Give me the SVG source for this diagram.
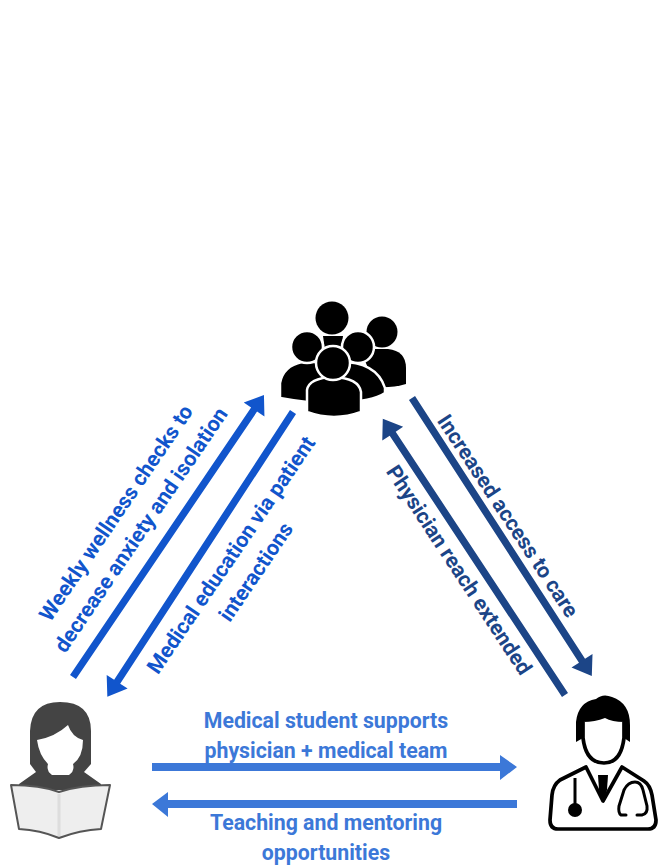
<svg xmlns="http://www.w3.org/2000/svg" width="659" height="866" viewBox="0 0 659 866">
<style>
text{font-family:Roboto,"Liberation Sans",sans-serif;font-weight:700;font-size:21.3px;text-anchor:middle}
.a{fill:#3c78d8}.b{fill:#1155cc}.c{fill:#1c4587}
.w{stroke:#fff;stroke-width:2.5}
</style>
<rect width="659" height="866" fill="#fff"/>
<g id="connectors">
<polygon class="b" transform="translate(73,677) rotate(-55.9)" points="0,-3.6 323,-3.6 323,-12.5 340.6,0 323,12.5 323,3.6 0,3.6"/>
<polygon class="b" transform="translate(293,412) rotate(123.1)" points="0,-3.6 322,-3.6 322,-12.5 340,0 322,12.5 322,3.6 0,3.6"/>
<polygon class="c" transform="translate(412,398) rotate(57.1)" points="0,-3.6 313,-3.6 313,-12.5 331,0 313,12.5 313,3.6 0,3.6"/>
<polygon class="c" transform="translate(565,695) rotate(236.6)" points="0,-3.6 313,-3.6 313,-12.5 331,0 313,12.5 313,3.6 0,3.6"/>
<polygon class="a" points="152,763 500,763 500,755 517,767 500,780 500,771 152,771"/>
<polygon class="a" points="517,800 168,800 168,792 152,804 168,817 168,808 517,808"/>
</g>
<g id="patients">
<circle cx="382" cy="332" r="15.5"/>
<path d="M360 349H388Q406 351 406 368V384Q392 388 376 387Z"/>
<circle cx="332" cy="318" r="16.5"/>
<path d="M323 336H343L341 350H325Z"/>
<path class="w" d="M322 363Q375 356 385 388V393Q372 402 340 402Z"/>
<circle class="w" cx="358" cy="347" r="16"/>
<path class="w" d="M280 398V383Q283 366 302 362H340V404Q312 404 280 398Z"/>
<circle class="w" cx="307" cy="347" r="16"/>
<path class="w" d="M307 390Q309 378 333 377Q359 378 361 392V412Q334 422 307 412Z"/>
<circle class="w" cx="333" cy="363" r="17"/>
</g>
<g id="student">
<path fill="#444" d="M30 764V731Q31 702 60 702Q91 702 91 731V764L84 772L101 784V790H19V784L36 772Z"/>
<path fill="#fff" d="M37 740Q55 737 68 725Q72 737 83 740Q83 757 73 764Q75 771 69 775H52Q46 771 48 764Q39 755 37 740Z"/>
<path fill="#eee" stroke="#555" stroke-width="2" stroke-linejoin="round" d="M11 785Q40 785 59 792Q80 785 110 785L101 829Q80 830 59 838Q40 830 19 829Z"/>
<path stroke="#ddd" stroke-width="3" d="M59 794V836"/>
</g>
<g id="physician">
<path d="M576 742V722Q578 702 596 699Q603 693 612 697Q630 703 630 725V742L624 738V722Q612 722 605 718Q595 722 583 722V738Z"/>
<path fill="none" stroke="#000" stroke-width="3.7" stroke-linejoin="round" d="M583 722V738Q586 763 604 763Q621 763 624 738V722"/>
<path fill="none" stroke="#000" stroke-width="3.7" stroke-linejoin="round" d="M586 767L560 780Q553 785 552 795L550 820Q550 829 558 829H648Q656 829 656 820L652 795Q650 785 644 781L622 767L603 801Z"/>
<path d="M598 775H608L607 790L603 802L599 790Z"/>
<path fill="none" stroke="#000" stroke-width="3" d="M575 778V808"/>
<circle cx="575" cy="810" r="7"/>
<path fill="none" stroke="#000" stroke-width="3" stroke-linecap="round" d="M626 815H621Q618 813 619 806L624 790Q628 782 635 782Q641 782 643 790L647 806Q648 814 642 815H637"/>
</g>
<g id="labels">
<text class="a" x="326" y="728">Medical student supports</text>
<text class="a" x="326" y="758">physician + medical team</text>
<text class="a" x="326" y="830">Teaching and mentoring</text>
<text class="a" x="326" y="860">opportunities</text>
<g transform="translate(122,517) rotate(-55.8)">
<text class="b" x="0" y="0">Weekly wellness checks to</text>
<text class="b" x="0" y="30">decrease anxiety and isolation</text>
</g>
<g transform="translate(237,559) rotate(-55.8)">
<text class="b" x="0" y="0">Medical education via patient</text>
<text class="b" x="0" y="30">interactions</text>
</g>
<text class="c" transform="translate(502,520) rotate(56.6)">Increased access to care</text>
<text class="c" transform="translate(453,574) rotate(56.6)">Physician reach extended</text>
</g>
</svg>
